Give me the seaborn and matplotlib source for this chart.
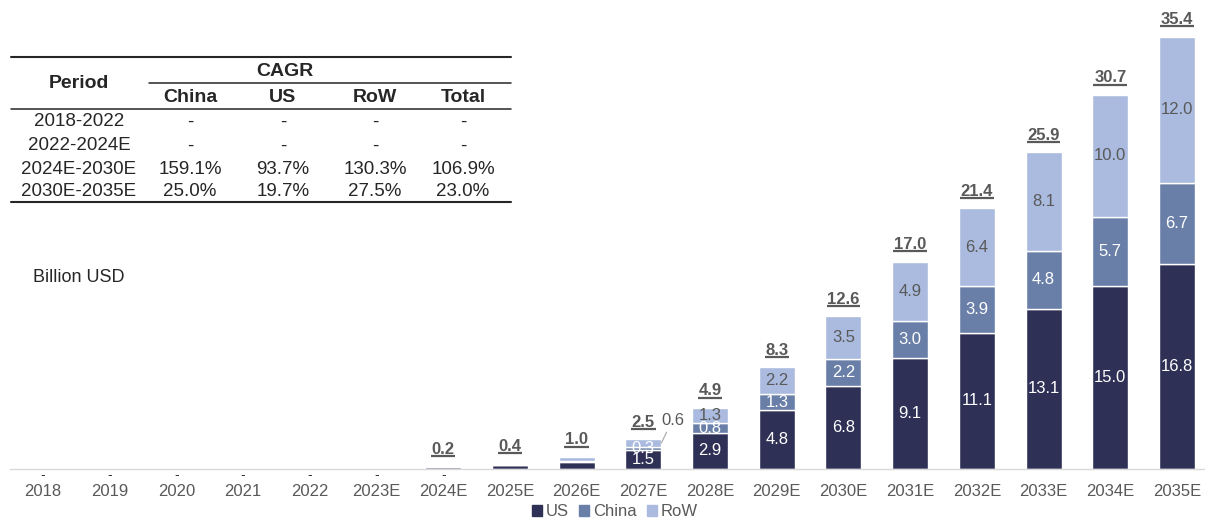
import numpy as np
import pandas as pd
import seaborn as sns
import matplotlib.pyplot as plt
from matplotlib.lines import Line2D
from matplotlib.patches import Patch
from matplotlib.transforms import offset_copy

years = ["2018", "2019", "2020", "2021", "2022", "2023E", "2024E", "2025E", "2026E",
         "2027E", "2028E", "2029E", "2030E", "2031E", "2032E", "2033E", "2034E", "2035E"]
us = [0, 0, 0, 0, 0, 0, 0.1, 0.25, 0.5, 1.5, 2.9, 4.8, 6.8, 9.1, 11.1, 13.1, 15.0, 16.8]
china = [0, 0, 0, 0, 0, 0, 0.05, 0.05, 0.15, 0.3, 0.8, 1.3, 2.2, 3.0, 3.9, 4.8, 5.7, 6.7]
row = [0, 0, 0, 0, 0, 0, 0.05, 0.1, 0.3, 0.6, 1.3, 2.2, 3.5, 4.9, 6.4, 8.1, 10.0, 12.0]
totals = [None, None, None, None, None, None, 0.2, 0.4, 1.0, 2.5, 4.9, 8.3, 12.6, 17.0,
          21.4, 25.9, 30.7, 35.4]
zero_dash = ["2018", "2019", "2020", "2021", "2022", "2023E", "2024E"]
first_seg_label = "2027E"

cagr_periods = ["2018-2022", "2022-2024E", "2024E-2030E", "2030E-2035E"]
cagr_cols = ["China", "US", "RoW", "Total"]
cagr_china = ["-", "-", "159.1%", "25.0%"]
cagr_us = ["-", "-", "93.7%", "19.7%"]
cagr_row = ["-", "-", "130.3%", "27.5%"]
cagr_total = ["-", "-", "106.9%", "23.0%"]

c_us, c_china, c_row = "#2E3055", "#6A7FA8", "#AABBDF"
gray = "#595959"
dark = "#262626"

sns.set_style("white")
plt.rcParams["font.family"] = ["Liberation Sans", "DejaVu Sans"]

df = pd.DataFrame({"year": years, "US": us, "China": china, "RoW": row})
df["b_china"] = df["US"]
df["b_row"] = df["US"] + df["China"]

fig = plt.figure(figsize=(12.05, 5.2), dpi=100)
ax = fig.add_axes([10 / 1205, 51.5 / 520, 1195 / 1205, 468.5 / 520])

w = 0.54
sns.barplot(data=df, x="year", y="US", color=c_us, width=w, saturation=1, ax=ax)
sns.barplot(data=df, x="year", y="China", bottom=df["b_china"], color=c_china, width=w,
            saturation=1, ax=ax)
sns.barplot(data=df, x="year", y="RoW", bottom=df["b_row"], color=c_row, width=w,
            saturation=1, ax=ax)

ax.set_xlim(-0.495, 17.42)
ax.set_ylim(0, 38.5)
ax.set_xlabel("")
ax.set_ylabel("")
ax.set_yticks([])
for s in ["top", "right", "left"]:
    ax.spines[s].set_visible(False)
ax.spines["bottom"].set_color("#D9D9D9")
ax.spines["bottom"].set_linewidth(1)
ax.tick_params(axis="x", length=0, pad=11, labelsize=12, labelcolor=gray)

# segment labels
start = years.index(first_seg_label)
for i in range(start, len(years)):
    ax.text(i, us[i] / 2, f"{us[i]:.1f}", ha="center", va="center", color="white", fontsize=12)
    ax.text(i, us[i] + china[i] / 2, f"{china[i]:.1f}", ha="center", va="center",
            color="white", fontsize=12)
    if i == start:
        ax.annotate(f"{row[i]:.1f}", xy=(i + w / 2, us[i] + china[i] + row[i] / 2),
                    xytext=(8, 11), textcoords="offset points", ha="center", va="bottom",
                    color=gray, fontsize=12,
                    arrowprops=dict(arrowstyle="-", color="#A6A6A6", lw=0.8,
                                    shrinkA=1, shrinkB=0))
    else:
        ax.text(i, us[i] + china[i] + row[i] / 2, f"{row[i]:.1f}", ha="center", va="center",
                color=gray, fontsize=12)

# dashes for empty years
for y in zero_dash:
    i = years.index(y)
    ax.annotate("-", xy=(i, 0), xytext=(0, -4.5), textcoords="offset points",
                ha="center", va="center", fontsize=10, color="#333333")

# totals, bold and underlined
fig.canvas.draw()
rend = fig.canvas.get_renderer()
for i, t in enumerate(totals):
    if t is None:
        continue
    top = us[i] + china[i] + row[i]
    txt = ax.annotate(f"{t:.1f}", xy=(i, top), xytext=(0, 9), textcoords="offset points",
                      ha="center", va="baseline", fontsize=12, fontweight="bold", color=gray)
    bb = txt.get_window_extent(rend)
    x0, x1 = ax.transData.inverted().transform([[bb.x0, 0], [bb.x1, 0]])[:, 0]
    tr = offset_copy(ax.transData, fig=fig, x=0, y=7.3, units="points")
    ax.add_line(Line2D([x0 - 0.01, x1 + 0.01], [top, top], transform=tr, color=gray,
                       lw=1.6, solid_capstyle="butt"))

fig.text(33 / 1205, 1 - 277 / 520, "Billion USD", fontsize=13, color=dark,
         ha="left", va="center")


# CAGR table
def fx(px):
    return px / 1205


def fy(py):
    return 1 - py / 520


col_x = [190, 283, 375, 463]
row_y = [122, 146, 169, 192]
fig.add_artist(Line2D([fx(11), fx(511)], [fy(57), fy(57)], color=dark, lw=1.5))
fig.add_artist(Line2D([fx(149), fx(511)], [fy(83), fy(83)], color=dark, lw=1.1))
fig.add_artist(Line2D([fx(11), fx(511)], [fy(109), fy(109)], color=dark, lw=1.1))
fig.add_artist(Line2D([fx(11), fx(511)], [fy(202), fy(202)], color=dark, lw=1.5))
fig.text(fx(79), fy(84), "Period", ha="center", va="center", fontsize=14,
         fontweight="bold", color=dark)
fig.text(fx(285), fy(72), "CAGR", ha="center", va="center", fontsize=14,
         fontweight="bold", color=dark)
for cx, name in zip(col_x, cagr_cols):
    fig.text(fx(cx), fy(97), name, ha="center", va="center", fontsize=14,
             fontweight="bold", color=dark)
for r, per in enumerate(cagr_periods):
    fig.text(fx(79), fy(row_y[r]), per, ha="center", va="center", fontsize=13.5,
             color=dark)
    for cx, vals in zip(col_x, [cagr_china, cagr_us, cagr_row, cagr_total]):
        fig.text(fx(cx), fy(row_y[r]), vals[r], ha="center", va="center", fontsize=13.5,
                 color=dark)

handles = [Patch(color=c_us, label="US"), Patch(color=c_china, label="China"),
           Patch(color=c_row, label="RoW")]
leg = fig.legend(handles=handles, loc="center", bbox_to_anchor=(615 / 1205, 1 - 512 / 520),
                 ncol=3, frameon=False, fontsize=12, handlelength=0.6, handleheight=0.6,
                 handletextpad=0.25, columnspacing=0.6)
for t in leg.get_texts():
    t.set_color(gray)

plt.savefig("out.png", dpi=100)
